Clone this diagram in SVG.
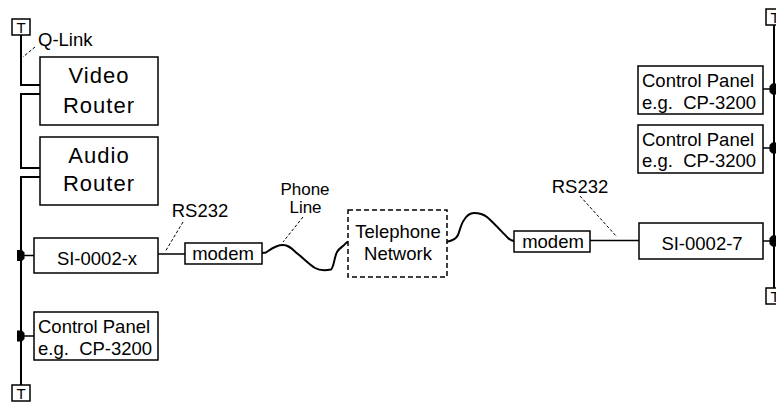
<svg xmlns="http://www.w3.org/2000/svg" xmlns:xlink="http://www.w3.org/1999/xlink" width="776" height="402" viewBox="0 0 776 402">
<style>
.box{fill:#fff;stroke:#000;stroke-width:1.5}
.dbox{fill:#fff;stroke:#000;stroke-width:1.5;stroke-dasharray:5 3}
.bus{fill:none;stroke:#000;stroke-width:2}
.wire{fill:none;stroke:#000;stroke-width:1.5}
.wavy{fill:none;stroke:#000;stroke-width:2;stroke-linejoin:round}
.lead{fill:none;stroke:#000;stroke-width:1;stroke-dasharray:3 2}
text{font-family:"Liberation Sans",Arial,sans-serif;font-size:18.5px;fill:#000}
.big{font-size:22px;letter-spacing:1px}
.c{text-anchor:middle}
.sm{font-size:17px}
.t{font-size:15px;text-anchor:middle}
</style>
<defs>
<path id="blob" d="M-4,-5.5 h5 l2.5,2.5 v6 l-2.5,2.5 h-5 z" fill="#000"/>
</defs>
<rect width="776" height="402" fill="#fff"/>

<g id="connectors">
<path class="bus" d="M21,35 V85 H43 A4,4.5 0 0 1 43,94 H21 V168 H43 A4,4.5 0 0 1 43,177 H21 V385"/>
<path class="bus" d="M774,25 V288"/>
<line class="wire" x1="21" y1="255.5" x2="34" y2="255.5"/>
<line class="wire" x1="21" y1="336" x2="34" y2="336"/>
<use xlink:href="#blob" x="21" y="255.5"/>
<use xlink:href="#blob" x="21" y="336"/>
<line class="wire" x1="763" y1="89" x2="774" y2="89"/>
<line class="wire" x1="763" y1="148" x2="774" y2="148"/>
<line class="wire" x1="763" y1="241" x2="774" y2="241"/>
<use xlink:href="#blob" transform="translate(773,89) scale(-1,1)"/>
<use xlink:href="#blob" transform="translate(773,148) scale(-1,1)"/>
<use xlink:href="#blob" transform="translate(773,241) scale(-1,1)"/>
<line class="wire" x1="158" y1="254" x2="185" y2="254"/>
<line class="wire" x1="590" y1="240.5" x2="639" y2="240.5"/>
<path class="wavy" d="M262,253 L266,252.5 C270,250 275,245 283,245 C289,245 292,249 298,254 C304,259 310,265 315,268 C320,271 326,270.5 331,269.5 C334,267 334,258 337,252 C339,248 343,247 346,243 L348,241.7"/>
<path class="wavy" d="M447,241.7 C452,241 456,239 458,235 C460,230 461,224 464,220 C467,215 470,213 474,213 C479,213 483,214 487,217 C494,223 502,232 508,238 C510,240 512,241 514,241"/>
<line class="lead" x1="35" y1="47" x2="23" y2="57"/>
<line class="lead" x1="183" y1="222" x2="165" y2="252"/>
<line class="lead" x1="303" y1="217" x2="283" y2="242"/>
<line class="lead" x1="580" y1="196" x2="617" y2="237"/>
</g>

<g id="T-top-left"><rect class="box" x="12" y="19" width="18" height="16"/><text class="t" x="21" y="32.5">T</text></g>
<g id="T-bottom-left"><rect class="box" x="12" y="385" width="18" height="16"/><text class="t" x="21" y="398.5">T</text></g>
<g id="T-top-right"><rect class="box" x="766" y="9" width="18" height="16"/><text class="t" x="775" y="22.5">T</text></g>
<g id="T-bottom-right"><rect class="box" x="766" y="288" width="18" height="16"/><text class="t" x="775" y="301.5">T</text></g>

<g id="qlink-label"><text x="38" y="45.5">Q-Link</text></g>

<g id="video-router">
<rect class="box" x="40" y="57" width="118" height="68"/>
<text class="big c" x="99" y="83">Video</text>
<text class="big c" x="99" y="113">Router</text>
</g>
<g id="audio-router">
<rect class="box" x="40" y="137" width="118" height="68"/>
<text class="big c" x="99" y="163">Audio</text>
<text class="big c" x="99" y="191">Router</text>
</g>
<g id="si-x">
<rect class="box" x="34" y="238" width="124" height="35"/>
<text class="c" x="97" y="264.5">SI-0002-x</text>
</g>
<g id="cp-left">
<rect class="box" x="34" y="312" width="124" height="48"/>
<text x="38" y="333">Control Panel</text>
<text x="38" y="355" xml:space="preserve">e.g.  CP-3200</text>
</g>
<g id="rs232-left"><text class="c" x="200" y="217">RS232</text></g>
<g id="modem-left">
<rect class="box" x="185" y="243" width="77" height="21"/>
<text class="c" x="223" y="260">modem</text>
</g>
<g id="phone-line-label">
<text class="c sm" x="305" y="195">Phone</text>
<text class="c sm" x="305.5" y="213">Line</text>
</g>
<g id="telephone-network">
<rect class="dbox" x="348" y="210" width="99" height="67"/>
<text class="c" x="398" y="238">Telephone</text>
<text class="c" x="398" y="260">Network</text>
</g>
<g id="modem-right">
<rect class="box" x="514" y="231" width="76" height="21"/>
<text class="c" x="553" y="247.5">modem</text>
</g>
<g id="rs232-right"><text class="c" x="580" y="193">RS232</text></g>
<g id="si-7">
<rect class="box" x="639" y="223" width="124" height="36"/>
<text class="c" x="702" y="249.5">SI-0002-7</text>
</g>
<g id="cp-right-1">
<rect class="box" x="638" y="66" width="125" height="48"/>
<text x="642" y="87">Control Panel</text>
<text x="642" y="109" xml:space="preserve">e.g.  CP-3200</text>
</g>
<g id="cp-right-2">
<rect class="box" x="638" y="125" width="125" height="48"/>
<text x="642" y="146">Control Panel</text>
<text x="642" y="167" xml:space="preserve">e.g.  CP-3200</text>
</g>
</svg>
